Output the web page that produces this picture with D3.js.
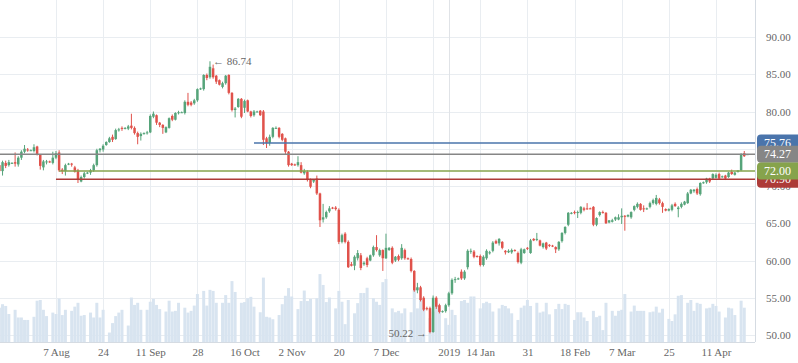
<!DOCTYPE html>
<html>
<head>
<meta charset="utf-8">
<script src="https://cdn.jsdelivr.net/npm/d3@7"></script>
<style>
  html, body { margin: 0; padding: 0; background: #fff; }
  svg { display: block; }
  .axis text { font-family: "Liberation Serif", serif; font-size: 11px; fill: #666; }
  .axis path, .axis line { display: none; }
</style>
</head>
<body>
<div id="chart"></div>
<script>
// daily bars Jul 17 2018 .. Apr 24 2019 (incl. sunday sessions): [open, high, low, close]
const ohlc = [
  [72.8,73.2,71.5,72.0],[72.0,73.4,71.4,73.2],[73.1,73.4,72.4,72.7],[72.8,73.5,72.6,73.2],[73.1,73.2,73.0,73.1],
  [73.2,74.5,72.6,73.0],[72.9,74.0,72.6,73.8],[73.8,74.8,73.5,74.6],[74.6,75.5,74.4,75.0],[74.9,75.1,74.6,74.8],
  [74.8,74.9,74.7,74.8],[74.7,75.6,74.5,75.2],[75.3,75.4,74.1,74.3],[74.2,74.3,72.2,72.7],[72.5,73.5,72.1,73.3],
  [73.2,73.5,72.9,73.3],[73.3,73.4,73.1,73.2],[73.1,74.6,72.9,73.8],[73.8,74.7,73.6,74.4],[74.5,74.8,71.9,72.1],
  [72.2,72.4,71.6,72.0],[72.0,73.0,71.4,72.8],[72.9,73.1,72.8,73.0],[73.0,73.1,72.6,72.9],[72.5,72.7,71.8,71.9],
  [72.1,72.3,70.4,70.8],[70.6,71.4,70.5,71.2],[71.2,71.9,71.0,71.7],[71.7,71.9,71.6,71.8],[71.8,72.3,71.5,72.1],
  [72.1,73.0,71.9,72.8],[72.8,75.0,72.6,74.8],[74.8,75.1,74.5,75.0],[74.9,75.6,74.6,75.4],[75.5,76.0,75.4,75.9],
  [75.9,76.6,75.8,76.4],[76.6,76.9,75.9,76.2],[76.3,77.7,76.2,77.5],[77.5,77.8,77.3,77.6],[77.8,78.0,77.4,77.7],
  [77.7,77.9,77.6,77.8],[77.7,78.2,77.5,78.0],[78.1,79.7,77.6,77.8],[77.8,78.0,76.9,77.1],[77.1,77.3,75.6,76.6],
  [76.7,77.2,76.1,77.0],[77.0,77.2,76.9,77.1],[77.1,77.4,76.9,77.2],[77.2,79.6,77.1,79.4],[79.3,80.0,79.1,79.7],
  [79.5,79.6,78.2,78.5],[78.5,78.6,77.9,78.2],[78.2,78.3,77.0,77.8],[77.2,78.0,77.1,77.9],[77.8,79.2,77.7,79.1],
  [79.4,79.6,78.7,78.9],[78.9,79.9,78.8,79.8],[79.8,80.1,79.6,79.9],[79.9,80.0,79.8,79.9],[79.8,81.5,79.6,81.3],
  [81.3,82.5,80.7,80.9],[81.2,81.4,80.7,80.9],[81.1,81.7,80.9,81.5],[81.5,83.1,81.3,83.0],[83.0,83.2,82.9,83.1],
  [83.0,85.0,82.8,84.9],[84.9,85.1,84.2,84.5],[84.6,86.74,84.4,86.0],[85.8,86.3,84.4,84.6],[84.8,84.9,83.7,84.0],
  [84.2,84.3,83.5,83.6],[83.3,84.0,83.1,83.8],[83.8,84.9,83.6,84.8],[84.9,85.0,82.3,82.5],[82.5,82.6,80.0,80.2],
  [80.2,80.6,79.2,80.4],[80.6,81.8,80.5,81.7],[81.7,81.8,79.1,79.3],[80.5,81.6,79.8,81.4],[81.5,81.6,79.9,80.0],
  [80.0,80.1,79.2,79.4],[79.5,80.2,79.3,80.0],[80.0,80.1,79.9,80.0],[80.1,80.2,79.4,79.5],[80.0,80.2,75.5,76.2],
  [76.4,76.6,75.1,75.8],[75.8,76.9,75.4,76.6],[76.6,77.9,76.4,77.8],[77.8,78.0,77.7,77.8],[77.8,77.9,76.4,76.6],
  [77.0,77.1,76.0,76.2],[76.4,76.5,74.3,74.6],[74.6,74.7,72.6,72.8],[73.0,73.1,72.7,72.8],[72.9,73.0,72.7,72.8],
  [72.8,74.0,72.6,73.2],[72.8,73.2,71.7,71.8],[71.7,72.3,71.5,72.0],[71.9,72.1,70.6,70.8],[70.8,71.0,69.7,69.9],
  [70.6,70.9,70.4,70.8],[71.0,71.4,68.8,69.0],[69.0,69.1,64.5,65.4],[65.5,67.6,65.1,65.8],[65.8,66.7,65.6,66.5],
  [66.6,67.3,66.4,67.0],[67.1,67.2,66.9,67.0],[67.1,67.3,66.7,66.9],[66.8,67.0,62.2,62.5],[62.5,63.6,62.3,63.4],
  [63.6,63.8,62.3,62.5],[62.5,62.7,59.0,59.1],[59.5,59.8,59.2,59.3],[59.3,60.7,58.7,60.5],[60.3,61.4,60.0,61.0],
  [60.7,61.0,58.7,59.0],[59.5,59.9,59.3,59.7],[60.3,60.5,59.1,59.4],[60.0,60.8,59.9,60.7],[60.7,62.0,60.5,61.8],
  [61.8,63.4,61.2,61.4],[60.7,61.6,60.5,61.4],[61.4,61.5,58.6,60.3],[60.3,63.6,60.2,61.7],[61.4,61.8,61.3,61.7],
  [61.7,61.9,59.5,59.7],[60.0,60.6,59.8,60.5],[60.6,60.8,59.9,60.1],[60.3,62.2,60.1,61.7],[61.4,61.6,60.1,60.3],
  [60.3,60.4,60.1,60.2],[60.2,60.4,58.4,58.6],[58.6,58.7,55.8,56.0],[56.0,57.0,55.6,56.4],[56.4,56.6,54.5,54.7],
  [55.0,55.2,53.2,53.4],[53.6,53.8,53.3,53.5],[53.6,53.8,50.22,50.4],[50.4,55.3,50.3,55.0],[55.0,55.2,53.5,53.8],
  [54.0,54.2,52.9,53.1],[53.1,53.3,53.0,53.2],[53.2,54.2,53.0,54.0],[54.0,55.8,53.8,55.6],[55.6,57.6,55.4,57.4],
  [57.4,57.8,57.0,57.5],[57.5,57.7,57.4,57.6],[58.5,58.8,57.4,57.6],[57.6,58.7,57.4,58.5],[59.1,61.5,58.8,61.3],
  [61.2,61.6,60.9,61.3],[61.2,61.4,60.3,60.5],[60.6,60.7,60.4,60.5],[60.6,60.8,59.2,59.4],[59.4,60.7,59.2,60.5],
  [60.3,61.5,60.1,61.3],[61.0,61.3,60.8,61.1],[61.3,62.6,61.1,62.4],[62.6,62.8,62.2,62.3],[62.3,63.0,62.0,62.9],
  [62.5,62.6,61.5,61.7],[61.3,61.4,60.8,61.1],[61.1,61.5,61.0,61.3],[61.1,61.6,60.9,61.4],[61.4,61.5,61.2,61.3],
  [61.0,61.2,59.6,59.8],[59.7,61.7,59.5,61.5],[61.0,61.6,60.9,61.5],[61.7,61.8,61.4,61.6],[61.0,62.9,60.9,62.7],
  [62.9,63.0,62.6,62.7],[62.8,63.7,62.6,62.9],[62.7,62.8,61.9,62.0],[61.8,62.4,61.6,62.3],[62.4,62.5,61.4,61.6],
  [62.1,62.2,61.8,62.0],[62.0,62.1,61.8,61.9],[61.8,61.9,61.0,61.5],[61.5,62.6,61.3,62.5],[62.6,63.8,62.4,63.7],
  [63.7,64.6,63.5,64.5],[64.8,66.5,64.6,66.4],[66.3,66.5,66.2,66.4],[66.5,66.7,66.2,66.4],[66.4,66.7,65.7,66.5],
  [66.4,67.3,66.2,67.2],[67.0,67.2,66.6,66.8],[67.0,67.7,66.8,66.9],[67.0,67.1,66.9,66.95],[67.2,67.3,64.6,64.8],
  [64.8,65.8,64.6,65.7],[66.1,66.6,65.9,66.5],[66.5,66.7,66.3,66.4],[66.4,66.5,64.9,65.0],[65.1,65.4,65.0,65.4],
  [65.2,65.6,65.1,65.4],[65.5,65.9,65.3,65.8],[65.5,66.2,65.4,65.8],[65.8,67.0,64.9,66.0],[66.0,66.1,64.0,65.9],
  [65.9,66.2,65.8,66.1],[65.8,66.6,65.6,66.5],[66.8,67.4,66.6,67.3],[67.2,67.8,67.0,67.6],[67.6,67.7,66.7,66.8],
  [67.0,67.4,66.5,66.9],[66.9,67.1,66.8,67.0],[67.2,67.9,67.0,67.7],[67.7,68.3,67.5,68.1],[67.6,68.8,67.4,68.4],
  [68.2,68.4,67.5,67.7],[67.7,67.9,66.4,67.2],[66.9,67.0,66.6,66.7],[66.7,67.0,66.6,66.9],[66.8,67.6,66.6,67.4],
  [67.6,67.8,67.2,67.3],[66.9,67.3,65.8,67.1],[67.2,67.8,67.0,67.6],[67.5,68.0,67.4,67.9],[67.7,69.2,67.6,69.0],
  [69.0,69.6,68.9,69.5],[69.3,69.6,69.1,69.5],[69.6,69.8,68.8,69.0],[68.9,70.5,68.7,70.4],[70.4,70.6,70.3,70.5],
  [70.5,71.1,70.3,71.0],[71.0,71.1,70.4,70.6],[71.0,71.7,70.8,71.6],[71.1,71.7,71.0,71.5],[71.6,71.8,70.9,71.0],
  [71.2,71.4,71.1,71.3],[71.4,71.5,70.8,71.0],[71.2,71.9,71.1,71.8],[71.9,72.2,71.5,71.6],[71.5,71.9,71.4,71.8],
  [71.9,72.1,71.8,72.1],[72.1,74.4,72.0,74.3],[74.4,74.7,73.9,74.0],[74.2,74.3,74.2,74.27]
];
const volume = [
  490,540,515,400,0,460,350,350,315,315,0,360,590,600,460,370,0,420,400,620,
  385,460,0,445,505,560,375,385,0,420,350,560,350,460,0,135,270,370,420,460,
  0,235,635,530,560,460,0,460,575,615,530,470,0,435,590,435,445,560,0,490,
  420,445,520,685,0,730,520,745,730,560,0,560,670,560,870,715,0,560,570,625,
  645,505,0,425,920,360,350,325,0,385,540,660,770,650,0,470,585,735,585,615,
  0,625,970,815,570,635,0,480,730,575,255,600,0,410,555,700,700,775,0,625,
  575,530,855,900,0,480,425,445,410,480,0,425,745,480,625,480,0,340,435,600,
  530,0,340,245,460,385,0,585,600,560,650,650,0,480,555,575,555,435,0,480,
  530,515,480,410,0,315,490,520,600,515,0,560,420,435,560,395,0,470,545,470,
  545,530,0,315,425,425,350,300,0,445,355,375,170,560,0,445,375,445,460,685,
  0,435,520,445,445,445,0,425,435,505,420,475,0,330,300,395,660,670,0,560,
  600,445,560,545,0,480,490,545,515,435,0,350,490,480,385,0,590,490,0
];

// x axis: bar index of each labelled tick
const tickIdx = [18, 33, 48, 63, 78, 93, 108, 123, 138, 143, 153, 168, 183, 198, 213, 228];
const tickLabels = ["7 Aug", "24", "11 Sep", "28", "16 Oct", "2 Nov", "20", "7 Dec", "", "2019", "14 Jan", "31", "18 Feb", "7 Mar", "25", "11 Apr"];
const yTicks = [50, 55, 60, 65, 70, 75, 80, 85, 90];

// horizontal levels and the bar they start from
const levelValues = [75.76, 74.27, 70.90, 72.00];
const levelStart = [81, 0, 18, 19];
const levelColors = ["#4a74ab", "#868686", "#ad3b38", "#86a34c"];

const highLabel = {i: 67, v: 86.74};
const lowLabel = {i: 137, v: 50.22};

const W = 798, H = 363;
const plotR = 755, plotB = 342;

const svg = d3.select("#chart").append("svg").attr("width", W).attr("height", H);

const x = d3.scaleLinear().domain([0, ohlc.length - 1]).range([-0.6, 747.4]);
const y = d3.scaleLinear().domain([50, 90]).range([335, 37]);
const yVol = d3.scaleLinear().domain([0, 1000]).range([plotB, 272]);

svg.append("defs").append("clipPath").attr("id", "plot")
  .append("rect").attr("x", 0).attr("y", 0).attr("width", plotR).attr("height", plotB);

// grid
const grid = svg.append("g");
grid.selectAll("line.h").data(yTicks).enter().append("line")
  .attr("x1", 0).attr("x2", plotR)
  .attr("y1", d => Math.round(y(d)) + 0.5).attr("y2", d => Math.round(y(d)) + 0.5)
  .attr("stroke", "#e9edf1").attr("stroke-width", 1);
grid.selectAll("line.v").data(tickIdx).enter().append("line")
  .attr("x1", d => Math.round(x(d)) + 0.5).attr("x2", d => Math.round(x(d)) + 0.5)
  .attr("y1", 0).attr("y2", plotB)
  .attr("stroke", (d, i) => tickLabels[i] === "2019" ? "#e0e3e7" : "#e9edf1")
  .attr("stroke-width", 1);

const plot = svg.append("g").attr("clip-path", "url(#plot)");

// volume
const vw = (x(1) - x(0)) * 0.95;
plot.append("g").selectAll("rect").data(volume).enter().append("rect")
  .attr("x", (d, i) => x(i) - vw / 2)
  .attr("y", d => yVol(d))
  .attr("width", vw)
  .attr("height", d => plotB - yVol(d))
  .attr("fill", "#d8e4f0");

// candles
const up = "#56a47a", down = "#e0524b";
const bw = 2.5;
const candles = plot.append("g").selectAll("g").data(ohlc).enter().append("g");
candles.append("line")
  .attr("x1", (d, i) => x(i)).attr("x2", (d, i) => x(i))
  .attr("y1", d => y(d[1])).attr("y2", d => y(d[2]))
  .attr("stroke", d => d[3] >= d[0] ? up : down).attr("stroke-width", 1);
candles.append("rect")
  .attr("x", (d, i) => x(i) - bw / 2)
  .attr("y", d => y(Math.max(d[0], d[3])))
  .attr("width", bw)
  .attr("height", d => Math.max(1, Math.abs(y(d[0]) - y(d[3]))))
  .attr("fill", d => d[3] >= d[0] ? up : down);

// level lines
plot.append("g").selectAll("line").data(levelValues).enter().append("line")
  .attr("x1", (d, i) => x(levelStart[i])).attr("x2", plotR)
  .attr("y1", d => y(d)).attr("y2", d => y(d))
  .attr("stroke", (d, i) => levelColors[i]).attr("stroke-width", 1.5);

// axis frame
svg.append("line").attr("x1", plotR + 0.5).attr("x2", plotR + 0.5).attr("y1", 0).attr("y2", plotB)
  .attr("stroke", "#d5dbe2");
svg.append("line").attr("x1", 0).attr("x2", plotR).attr("y1", plotB + 0.5).attr("y2", plotB + 0.5)
  .attr("stroke", "#d5dbe2");

svg.append("g").attr("class", "axis")
  .attr("transform", `translate(${plotR},0)`)
  .call(d3.axisRight(y).tickValues(yTicks).tickSize(0).tickPadding(11).tickFormat(d3.format(".2f")));

svg.append("g").attr("class", "axis")
  .attr("transform", `translate(0,${plotB})`)
  .call(d3.axisBottom(x).tickValues(tickIdx).tickSize(0).tickPadding(6)
    .tickFormat((d, i) => tickLabels[i]));

// price tags
const tags = svg.append("g").selectAll("g").data(levelValues).enter().append("g")
  .attr("transform", d => `translate(${plotR + 2},${y(d)})`);
tags.append("rect")
  .attr("x", 0).attr("y", -8.5).attr("width", 50).attr("height", 17).attr("rx", 4)
  .attr("fill", (d, i) => levelColors[i]);
tags.append("text")
  .attr("x", 7).attr("y", 4)
  .attr("fill", "#fff")
  .style("font-family", "Liberation Serif, serif").style("font-size", "12px")
  .text(d => d3.format(".2f")(d));

// high / low notes
svg.append("text")
  .attr("x", x(highLabel.i) + 3).attr("y", y(highLabel.v) + 4)
  .attr("fill", "#666").style("font-family", "Liberation Serif, serif").style("font-size", "11px")
  .text("\u2190 " + highLabel.v.toFixed(2));
svg.append("text")
  .attr("x", x(lowLabel.i) - 3).attr("y", y(lowLabel.v) + 4)
  .attr("text-anchor", "end")
  .attr("fill", "#666").style("font-family", "Liberation Serif, serif").style("font-size", "11px")
  .text(lowLabel.v.toFixed(2) + " \u2192");
</script>
</body>
</html>
